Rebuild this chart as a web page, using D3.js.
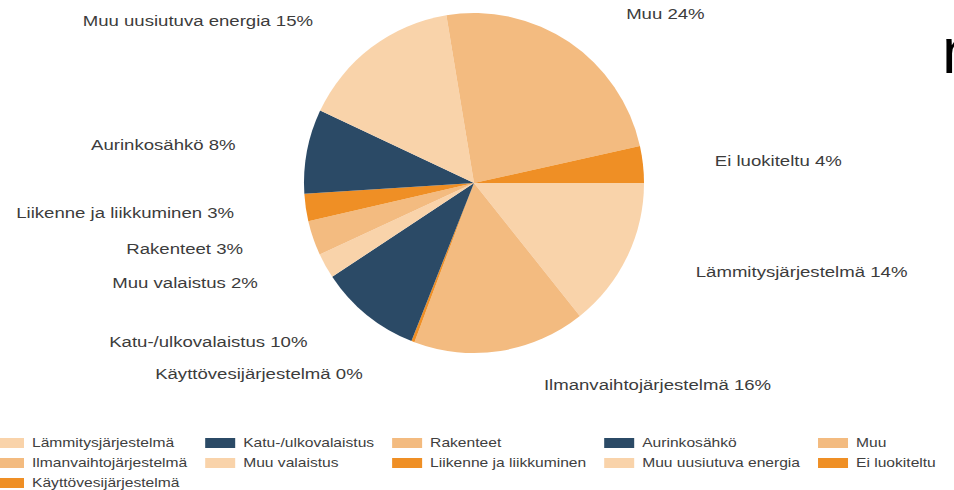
<!DOCTYPE html>
<html>
<head>
<meta charset="utf-8">
<script src="https://cdn.jsdelivr.net/npm/d3@7"></script>
<style>
  html, body { margin: 0; padding: 0; background: #fff; overflow: hidden; }
  text { font-family: "Liberation Sans", Arial, sans-serif; }
</style>
</head>
<body>
<svg id="chart"></svg>
<script>
const width = 954; // pixels
const height = 490; // pixels

// slices, clockwise from 3 o'clock (shares in %)
const categories = [
  "Lämmitysjärjestelmä", "Ilmanvaihtojärjestelmä", "Käyttövesijärjestelmä",
  "Katu-/ulkovalaistus", "Muu valaistus", "Rakenteet", "Liikenne ja liikkuminen",
  "Aurinkosähkö", "Muu uusiutuva energia", "Muu", "Ei luokiteltu"
];
const shares = [14.3, 16.4, 0.3, 9.7, 2.4, 3.3, 2.6, 8.0, 15.4, 24.1, 3.5];
const colors = [
  "#f9d3aa", "#f3bb80", "#ef8f25",
  "#2b4a66", "#f9d3aa", "#f3bb80", "#ef8f25",
  "#2b4a66", "#f9d3aa", "#f3bb80", "#ef8f25"
];
// legend is laid out column by column
const legendColumns = [
  ["Lämmitysjärjestelmä", "Ilmanvaihtojärjestelmä", "Käyttövesijärjestelmä"],
  ["Katu-/ulkovalaistus", "Muu valaistus"],
  ["Rakenteet", "Liikenne ja liikkuminen"],
  ["Aurinkosähkö", "Muu uusiutuva energia"],
  ["Muu", "Ei luokiteltu"]
];

const data = categories.map((name, i) => ({name, value: shares[i], color: colors[i]}));

const cx = 474, cy = 183, radius = 170;
const labelRadius = 204;   // where the (hidden) leader line leaves the pie
const labelPad = 38;       // horizontal run of the leader before the text
const stretch = 1.24;      // the source text is drawn wide
const legendStretch = 1.25;

const svg = d3.select("#chart")
  .attr("width", width)
  .attr("height", height)
  .attr("viewBox", [0, 0, width, height]);

/**
 * Pie
 */
const pie = d3.pie()
  .value(d => d.value)
  .sort(null)
  .startAngle(Math.PI / 2)
  .endAngle(Math.PI / 2 + 2 * Math.PI);

const arc = d3.arc().innerRadius(0).outerRadius(radius);
const labelArc = d3.arc().innerRadius(labelRadius).outerRadius(labelRadius);
const arcs = pie(data);

const g = svg.append("g").attr("transform", `translate(${cx},${cy})`);

g.selectAll("path")
  .data(arcs)
  .join("path")
  .attr("fill", d => d.data.color)
  .attr("d", arc);

/**
 * Labels
 */
const midAngle = d => (d.startAngle + d.endAngle) / 2;
const side = d => Math.sin(midAngle(d)) < 0 ? -1 : 1;

g.selectAll("text.label")
  .data(arcs)
  .join("text")
  .attr("class", "label")
  .attr("transform", d => {
    const [x, y] = labelArc.centroid(d);
    return `translate(${x + side(d) * labelPad},${y}) scale(${stretch},1)`;
  })
  .attr("text-anchor", d => side(d) < 0 ? "end" : "start")
  .attr("dy", "0.35em")
  .attr("font-size", 15)
  .attr("fill", "#3c3c3c")
  .text(d => `${d.data.name} ${Math.round(d.data.value)}%`);

/**
 * Legend
 */
const colorOf = new Map(data.map(d => [d.name, d.color]));
const legend = svg.append("g");
const rowY = [443, 463, 483];
const swatchW = 30, swatchH = 10, textGap = 8, colGap = 18;

let colX = -6;
legendColumns.forEach(col => {
  const cg = legend.append("g").attr("transform", `translate(${colX},0)`);
  let maxW = 0;
  col.forEach((name, r) => {
    cg.append("rect")
      .attr("x", 0)
      .attr("y", rowY[r] - swatchH / 2)
      .attr("width", swatchW)
      .attr("height", swatchH)
      .attr("fill", colorOf.get(name));
    const t = cg.append("text")
      .attr("transform", `translate(${swatchW + textGap},${rowY[r]}) scale(${legendStretch},1)`)
      .attr("dy", "0.35em")
      .attr("font-size", 12.5)
      .attr("fill", "#404040")
      .text(name);
    maxW = Math.max(maxW, t.node().getComputedTextLength() * legendStretch);
  });
  colX += swatchW + textGap + maxW + colGap;
});

/**
 * Heading that is cut off at the right edge in the source
 */
svg.append("text")
  .attr("x", 942)
  .attr("y", 73)
  .attr("font-size", 64)
  .attr("fill", "#000")
  .text("n");
</script>
</body>
</html>
